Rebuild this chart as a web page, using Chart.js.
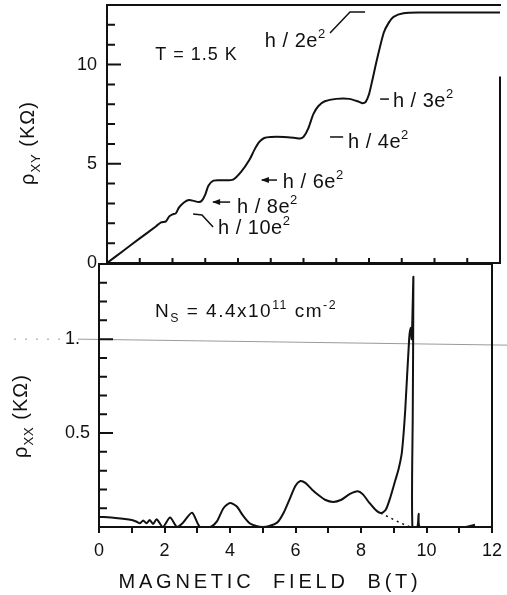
<!DOCTYPE html>
<html>
<head>
<meta charset="utf-8">
<script src="https://cdn.jsdelivr.net/npm/chart.js@4.4.1/dist/chart.umd.min.js"></script>
<style>
  html, body { margin: 0; padding: 0; background: #fff; }
  #wrap { position: relative; width: 507px; height: 595px; overflow: hidden; }
  canvas { position: absolute; left: 0; }
  #hall { top: 0; }
  #diag { top: 260px; }
</style>
</head>
<body>
<div id="wrap">
  <canvas id="hall" width="507" height="270"></canvas>
  <canvas id="diag" width="507" height="335"></canvas>
</div>
<script>
// Hall resistance rho_xy (kOhm) vs magnetic field (T)
const hallField = [0, 0.5, 1.0, 1.5, 1.65, 1.8, 1.9, 2.0, 2.1, 2.2, 2.35, 2.5, 2.65, 2.8, 2.9, 3.0, 3.1, 3.25, 3.5, 3.85,
  4.1, 4.35, 4.5, 4.65, 4.8, 5.0, 5.4, 5.75, 5.9, 6.0, 6.15, 6.3, 6.45, 6.65, 7.0, 7.4, 7.7, 7.8, 7.9, 8.0,
  8.1, 8.25, 8.45, 8.6, 8.75, 9.05, 9.5, 12];
const hallRes = [0, 0.62, 1.24, 1.85, 2.05, 2.1, 2.35, 2.45, 2.5, 2.8, 3.05, 3.17, 3.13, 3.07, 3.15, 3.45, 3.9, 4.15, 4.17, 4.2,
  4.6, 5.2, 5.7, 6.1, 6.3, 6.35, 6.35, 6.3, 6.27, 6.35, 6.8, 7.5, 7.9, 8.15, 8.27, 8.27, 8.12, 8.05, 8.12, 8.5,
  9.2, 10.3, 11.6, 12.1, 12.4, 12.58, 12.62, 12.62];

// longitudinal resistance rho_xx (kOhm)
const diagField = [0, 0.5, 1.0, 1.15, 1.25, 1.35, 1.45, 1.55, 1.65, 1.76, 1.95, 2.17, 2.38, 2.55, 2.84, 3.08, 3.4, 3.6, 3.8, 4.0,
  4.2, 4.4, 4.6, 4.8, 5.0, 5.2, 5.45, 5.65, 5.85, 6.0, 6.15, 6.3, 6.5, 6.7, 6.9, 7.15, 7.4, 7.65, 7.9, 8.05,
  8.25, 8.45, 8.6, 8.75, 8.9, 9.05, 9.15, 9.25, 9.35, 9.47, 9.52, 9.55, 9.6, 9.58, 9.57, 9.72, 9.76, 9.8, 10.5, 11.2, 11.48];
const diagRes = [0.055, 0.048, 0.037, 0.028, 0.02, 0.034, 0.02, 0.037, 0.016, 0.041, 0, 0.05, 0, 0.02, 0.076, 0, 0, 0.03, 0.1, 0.128,
  0.11, 0.06, 0.02, 0.005, 0, 0.005, 0.025, 0.08, 0.16, 0.22, 0.245, 0.235, 0.2, 0.17, 0.145, 0.133, 0.145, 0.175, 0.19, 0.175,
  0.13, 0.09, 0.074, 0.09, 0.16, 0.25, 0.31, 0.4, 0.62, 1.0, 1.06, 1.0, 1.33, 0.6, 0, 0, 0.07, 0, 0, 0, 0.012];

// dotted background under the last peak
const tailField = [8.6, 8.9, 9.2, 9.5];
const tailRes = [0.074, 0.048, 0.022, 0];

const hallTicks = [0, 5, 10];
const fieldTicks = [0, 2, 4, 6, 8, 10, 12];
const diagTicks = [0.5, 1];
const diagTickText = ['0.5', '1.  '];

const INK = '#111';
const FONT = "'Liberation Sans', Arial, sans-serif";
const pts = (xs, ys) => xs.map((x, i) => ({ x, y: ys[i] }));

// text made of pieces: [text, 0 normal | 1 superscript | -1 subscript]
function drawRich(ctx, parts, x, y, size, spacing, align) {
  ctx.save();
  ctx.letterSpacing = (spacing || 0) + 'px';
  ctx.textAlign = 'left';
  ctx.textBaseline = 'alphabetic';
  const seg = parts.map(([t, m]) => {
    const s = m ? size * 0.65 : size;
    ctx.font = s + 'px ' + FONT;
    return { t, m, s, w: ctx.measureText(t).width };
  });
  const total = seg.reduce((a, b) => a + b.w, 0);
  let cx = align === 'center' ? x - total / 2 : x;
  seg.forEach(p => {
    ctx.font = p.s + 'px ' + FONT;
    const dy = p.m > 0 ? -size * 0.45 : p.m < 0 ? size * 0.28 : 0;
    ctx.fillText(p.t, cx, y + dy);
    cx += p.w;
  });
  ctx.restore();
}

// box edges, inward ticks, labels and leaders, read from a plain config
function makePaper(o) {
  return {
    id: 'paper',
    beforeDraw(chart) {
      if (o.crease === undefined) return;
      // faint fold line crossing the scan
      const { ctx } = chart;
      const y0 = chart.scales.y.getPixelForValue(o.crease);
      ctx.save();
      ctx.strokeStyle = '#9a9a9a';
      ctx.lineWidth = 1;
      ctx.beginPath();
      ctx.moveTo(78, y0);
      ctx.lineTo(chart.width, y0 + 6);
      ctx.stroke();
      ctx.setLineDash([2, 9]);
      ctx.beginPath();
      ctx.moveTo(14, y0);
      ctx.lineTo(66, y0);
      ctx.stroke();
      ctx.restore();
    },
    afterDraw(chart) {
      const { ctx, chartArea: a, scales: { x, y } } = chart;
      const px = v => x.getPixelForValue(v);
      const py = v => y.getPixelForValue(v);
      ctx.save();
      ctx.strokeStyle = INK;
      ctx.fillStyle = INK;
      ctx.lineWidth = 2;

      ctx.beginPath();
      ctx.moveTo(a.left - 1, a.top);
      ctx.lineTo(a.right + 1, a.top);
      ctx.moveTo(a.right, py(o.rightEdgeTo));
      ctx.lineTo(a.right, a.bottom);
      ctx.stroke();

      ctx.beginPath();
      const n = Math.round((o.yMax - o.yMin) / o.yStep);
      for (let i = 1; i < n; i++) {
        const v = o.yMin + i * o.yStep;
        const len = o.yMajor.some(m => Math.abs(m - v) < 1e-6) ? 14 : 8;
        ctx.moveTo(a.left, py(v));
        ctx.lineTo(a.left + len, py(v));
      }
      (o.xIn || []).forEach(v => {
        ctx.moveTo(px(v), a.bottom);
        ctx.lineTo(px(v), a.bottom - 5);
      });
      ctx.stroke();

      ctx.lineWidth = 1.5;
      (o.leaders || []).forEach(l => {
        ctx.beginPath();
        l.p.forEach(([bx, by], i) => i ? ctx.lineTo(px(bx), py(by)) : ctx.moveTo(px(bx), py(by)));
        ctx.stroke();
        if (l.arrow) {
          const hx = px(l.p[0][0]), hy = py(l.p[0][1]);
          ctx.beginPath();
          ctx.moveTo(hx - 1, hy);
          ctx.lineTo(hx + 7, hy - 3);
          ctx.lineTo(hx + 7, hy + 3);
          ctx.closePath();
          ctx.fill();
        }
      });

      (o.notes || []).forEach(t => drawRich(ctx, t.parts, px(t.x), py(t.y), t.size, t.sp, 'left'));

      (o.titles || []).forEach(t => {
        ctx.save();
        ctx.translate(t.x, t.y);
        if (t.rot) ctx.rotate(-Math.PI / 2);
        drawRich(ctx, t.parts, 0, 0, t.size, t.sp, 'center');
        ctx.restore();
      });
      ctx.restore();
    }
  };
}

const curve = {
  borderColor: INK,
  borderWidth: 2,
  pointRadius: 0,
  fill: false,
  tension: 0.25
};
const tickFont = { family: FONT, size: 18 };
const ePow = n => [['h / ' + n + 'e', 0], ['2', 1]];
const noPad = s => { s.paddingTop = 0; s.paddingBottom = 0; s.paddingLeft = 0; s.paddingRight = 0; };

new Chart(document.getElementById('hall'), {
  type: 'line',
  data: {
    datasets: [{ ...curve, data: pts(hallField, hallRes) }]
  },
  options: {
    responsive: false,
    animation: false,
    layout: { padding: { top: 5, right: 7, left: 0, bottom: 0 } },
    plugins: { legend: { display: false }, tooltip: { enabled: false } },
    scales: {
      x: {
        type: 'linear', min: 0, max: 12,
        ticks: { display: false },
        grid: { display: false },
        border: { color: INK, width: 2 },
        afterFit: s => { s.height = 7; noPad(s); }
      },
      y: {
        min: 0, max: 13,
        ticks: {
          stepSize: 1, autoSkip: false, padding: 10, color: INK, font: tickFont,
          callback: v => hallTicks.includes(v) ? String(v) : ''
        },
        grid: { display: false, drawTicks: false },
        border: { color: INK, width: 2 },
        afterFit: s => { s.width = 107; noPad(s); }
      }
    }
  },
  plugins: [makePaper({
    rightEdgeTo: 9.4,
    yMin: 0, yMax: 13, yStep: 1,
    yMajor: hallTicks,
    xIn: [1, 2, 3, 4, 5, 6, 7, 8, 9, 10, 11],
    notes: [
      { x: 1.47, y: 10.23, parts: [['T = 1.5 K', 0]], size: 18, sp: 1 },
      { x: 4.82, y: 10.88, parts: ePow(2), size: 20, sp: 0.5 },
      { x: 8.73, y: 7.86, parts: ePow(3), size: 20, sp: 0.5 },
      { x: 7.36, y: 5.79, parts: ePow(4), size: 20, sp: 0.5 },
      { x: 5.37, y: 3.78, parts: ePow(6), size: 20, sp: 0.5 },
      { x: 3.97, y: 2.52, parts: ePow(8), size: 20, sp: 0.5 },
      { x: 3.39, y: 1.46, parts: ePow(10), size: 20, sp: 0.5 }
    ],
    leaders: [
      { p: [[6.81, 11.59], [7.42, 12.65], [7.88, 12.65]] },
      { p: [[8.34, 8.26], [8.61, 8.26]] },
      { p: [[6.81, 6.35], [7.21, 6.35]] },
      { p: [[4.73, 4.18], [5.19, 4.18]], arrow: true },
      { p: [[3.24, 3.07], [3.76, 3.07]], arrow: true },
      { p: [[2.63, 2.47], [2.9, 2.42], [3.24, 1.81]] }
    ],
    titles: [
      { x: 34, y: 143, rot: true, size: 20, sp: 1, parts: [['ρ', 0], ['XY', -1], [' (KΩ)', 0]] }
    ]
  })]
});

new Chart(document.getElementById('diag'), {
  type: 'line',
  data: {
    datasets: [
      { ...curve, data: pts(diagField, diagRes) },
      { ...curve, borderWidth: 1.5, borderDash: [2, 4], tension: 0, data: pts(tailField, tailRes) }
    ]
  },
  options: {
    responsive: false,
    animation: false,
    layout: { padding: { top: 4, right: 15, left: 0, bottom: 0 } },
    plugins: { legend: { display: false }, tooltip: { enabled: false } },
    scales: {
      x: {
        type: 'linear', min: 0, max: 12,
        ticks: {
          stepSize: 1, autoSkip: false, maxRotation: 0, padding: 7, color: INK, font: tickFont,
          callback: v => fieldTicks.includes(v) ? String(v) : ''
        },
        grid: { display: true, drawOnChartArea: false, drawTicks: true, tickLength: 6, color: INK, lineWidth: 2 },
        border: { color: INK, width: 2 },
        afterFit: s => { s.height = 68; noPad(s); }
      },
      y: {
        min: 0, max: 1.4,
        ticks: {
          stepSize: 0.1, autoSkip: false, padding: 9, color: INK, font: tickFont,
          callback: v => {
            const i = diagTicks.findIndex(t => Math.abs(t - v) < 1e-6);
            return i < 0 ? '' : diagTickText[i];
          }
        },
        grid: { display: false, drawTicks: false },
        border: { color: INK, width: 2 },
        afterFit: s => { s.width = 99; noPad(s); }
      }
    }
  },
  plugins: [makePaper({
    crease: 1.0,
    rightEdgeTo: 1.4,
    yMin: 0, yMax: 1.4, yStep: 0.1,
    yMajor: diagTicks,
    notes: [
      { x: 1.71, y: 1.117, size: 19, sp: 1.5,
        parts: [['N', 0], ['S', -1], [' = 4.4x10', 0], ['11', 1], [' cm', 0], ['-2', 1]] }
    ],
    titles: [
      { x: 27, y: 156, rot: true, size: 20, sp: 1, parts: [['ρ', 0], ['XX', -1], [' (KΩ)', 0]] },
      { x: 270, y: 328, size: 20, sp: 3.8, parts: [['MAGNETIC  FIELD  B(T)', 0]] }
    ]
  })]
});
</script>
</body>
</html>
